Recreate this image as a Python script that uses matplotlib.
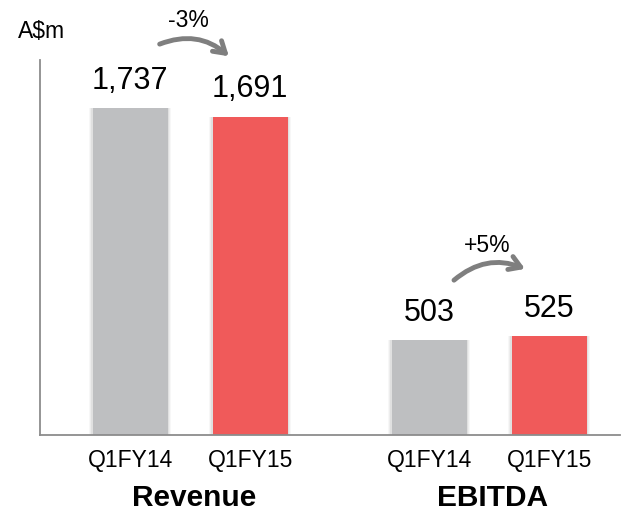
import matplotlib
matplotlib.use("Agg")
import matplotlib.pyplot as plt
from matplotlib.transforms import blended_transform_factory
from matplotlib.patches import FancyArrowPatch

plt.rcParams['font.family'] = ['Liberation Sans', 'DejaVu Sans']

groups = ["Revenue", "EBITDA"]
periods = ["Q1FY14", "Q1FY15"]
revenue = [1737, 1691]
ebitda = [503, 525]
changes = ["-3%", "+5%"]

positions = [[0, 1], [2.49, 3.49]]
values = [revenue, ebitda]
colors = ["#BEBFC1", "#F05A5A"]

fig = plt.figure(figsize=(6.21, 5.12), dpi=100)
ax = fig.add_axes([40/621, (512-435)/512, 580/621, (435-60)/512])

for gi, (pos, vals) in enumerate(zip(positions, values)):
    for p, v, c in zip(pos, vals, colors):
        # soft shadow
        for k, a in enumerate([0.05, 0.04, 0.03]):
            ax.bar(p, v, width=0.625 + 0.02*(k+1), color="#000000", alpha=a, zorder=1,
                   linewidth=0)
        ax.bar(p, v, width=0.625, color=c, zorder=2, linewidth=0)
        ax.text(p, v + 68, f"{v:,}", ha="center", va="bottom", fontsize=22, color="black")

ax.set_xlim(-0.75, 4.08)
ax.set_ylim(0, 1995)
ax.set_xticks([p for pos in positions for p in pos])
ax.set_xticklabels(periods * 2, fontsize=16.5)
ax.tick_params(axis="x", length=0, pad=10)
ax.set_yticks([])
for s in ["top", "right"]:
    ax.spines[s].set_visible(False)
for s in ["left", "bottom"]:
    ax.spines[s].set_color("#8C8C8C")
    ax.spines[s].set_linewidth(1.3)

trans = blended_transform_factory(ax.transData, fig.transFigure)
for pos, g in zip(positions, groups):
    ax.text(sum(pos)/2 + 0.03, (512-506)/512, g, transform=trans, ha="center", va="baseline",
            fontsize=21.5, fontweight="bold")

fig.text(18/621, 1 - 31/512, "A$m", fontsize=16.5, ha="left", va="center")

# change arrows
arrow_specs = [
    ((0.225, 2074), (0.84, 2005), -0.32, (0.49, 2207)),
    ((2.68, 814), (3.31, 878), -0.32, (2.97, 1008)),
]
for (start, end, rad, tpos), lab in zip(arrow_specs, changes):
    arr = FancyArrowPatch(start, end, connectionstyle=f"arc3,rad={rad}",
                          arrowstyle="->,head_length=8,head_width=5",
                          color="#7F7F7F", lw=3.5, clip_on=False, zorder=3)
    ax.add_patch(arr)
    ax.text(tpos[0], tpos[1], lab, ha="center", va="center", fontsize=16.5, clip_on=False)

fig.savefig("out.png", dpi=100)
